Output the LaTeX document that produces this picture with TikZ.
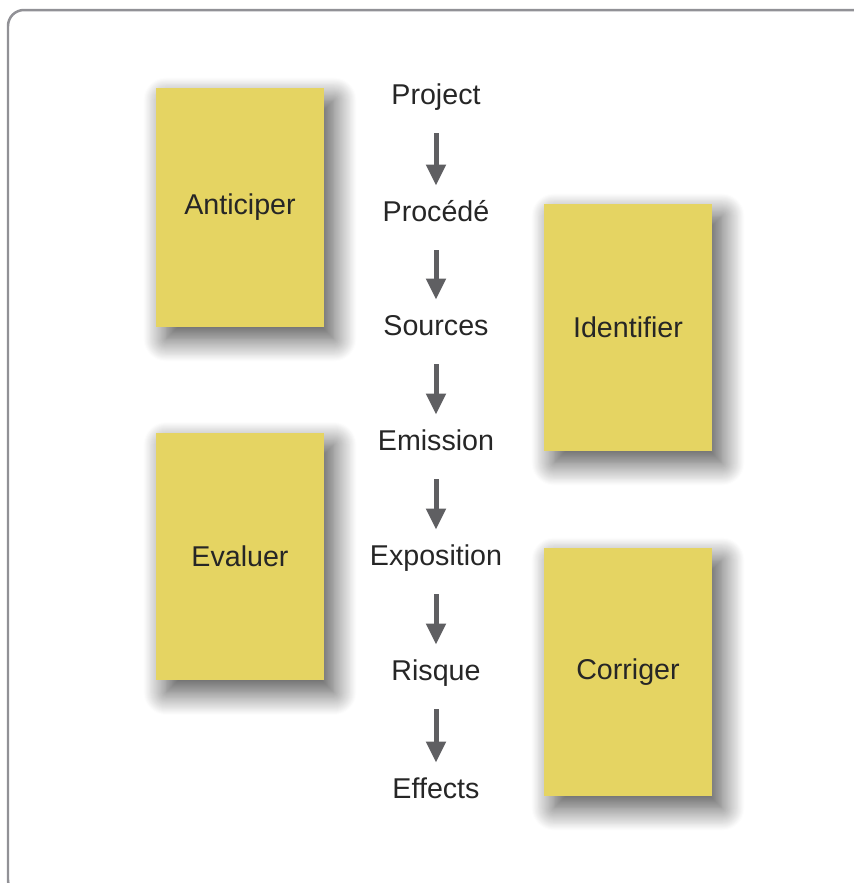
\documentclass[tikz,border=0pt]{standalone}
\usepackage{fontspec}
\setmainfont{Liberation Sans}
\usepackage{tikz}
\usetikzlibrary{arrows.meta,shadows.blur}
\usepackage{xcolor}
\definecolor{notecolor}{RGB}{229,212,98}
\definecolor{framecolor}{RGB}{145,145,150}
\definecolor{arrowcolor}{RGB}{95,95,98}

\begin{document}
\begin{tikzpicture}[x=0.02cm,y=-0.02cm,
        note/.style={fill=notecolor, minimum width=3.36cm, minimum height=4.96cm, inner sep=0pt,
            text=black!85, font=\fontsize{16.3}{18}\selectfont,
            blur shadow={shadow xshift=0.2cm, shadow yshift=-0.24cm, shadow blur radius=0.45cm,
                shadow blur steps=24, shadow opacity=70}},
        stage/.style={inner sep=0pt, text height=12pt, text depth=4pt,
            text=black!85, font=\fontsize{16.3}{18}\selectfont},
        flow/.style={-{Triangle[length=0.42cm,width=0.38cm]}, line width=0.1cm, arrowcolor,
            shorten <=0.44cm, shorten >=0.28cm}]
        \path[use as bounding box, clip] (0,0) rectangle (854,883);

        % Frame
        \draw[framecolor, line width=0.05cm, rounded corners=0.32cm] (8,10) rectangle (880,896);

        % Steps in the middle
        \foreach \n/\t/\y in {project/Project/97, procede/Procédé/214, sources/Sources/328,
                emission/Emission/443, exposition/Exposition/558, risque/Risque/673, effects/Effects/791} {
            \node[stage] (\n) at (436,\y) {\t};
        }

        % Arrows between the steps
        \foreach \a/\b in {project/procede, procede/sources, sources/emission,
                emission/exposition, exposition/risque, risque/effects} {
            \draw[flow] (\a) -- (\b);
        }

        % Notes left and right
        \node[note, minimum height=4.78cm] (anticiper) at (240,207.5) {Anticiper};
        \node[note, minimum height=4.94cm] (identifier) at (628,327.5) {Identifier};
        \node[note] (evaluer) at (240,556.5) {Evaluer};
        \node[note] (corriger) at (628,672) {Corriger};
    \end{tikzpicture}
\end{document}
